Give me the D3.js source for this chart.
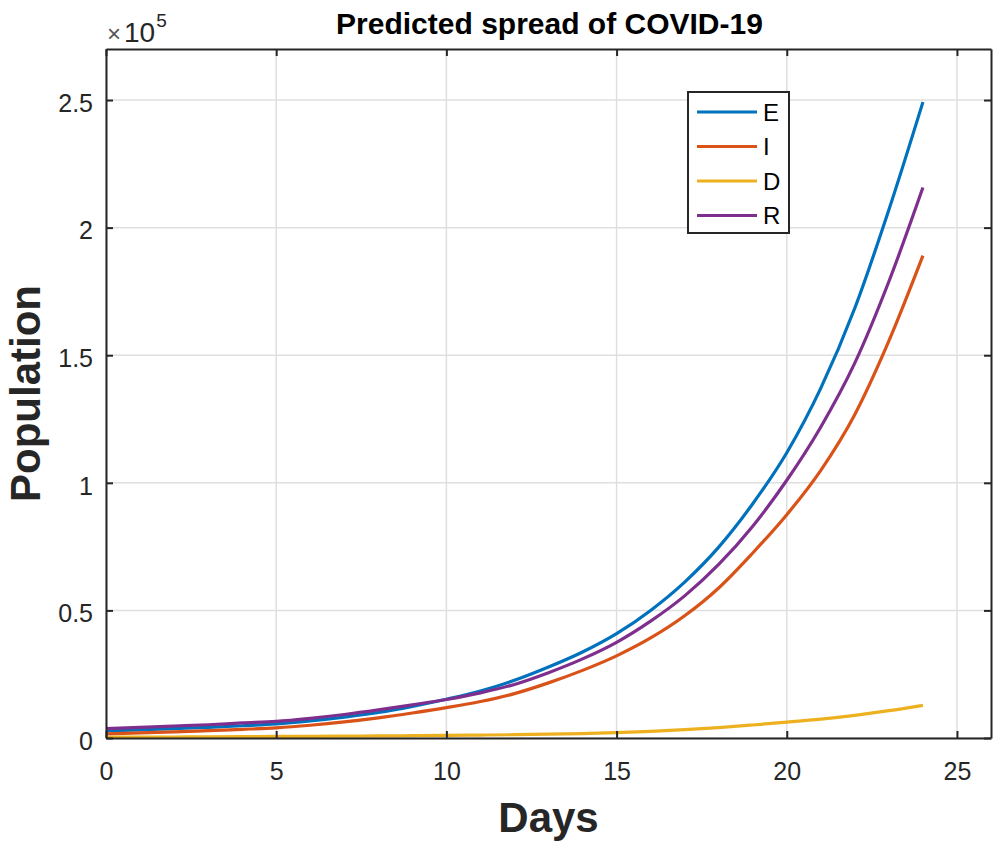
<!DOCTYPE html>
<html>
<head>
<meta charset="utf-8">
<script src="https://cdn.jsdelivr.net/npm/d3@7/dist/d3.min.js"></script>
<style>
  body { margin: 0; background: #fff; }
  svg { font-family: "Liberation Sans", Arial, sans-serif; }
</style>
</head>
<body>
<svg></svg>
<script>
let width = 1000;
let height = 843;

// data
let days = d3.range(0, 25);
let seriesNames = ['E', 'I', 'D', 'R'];
let exposed = [2800, 3200, 3700, 4200, 4800, 5500, 6700, 8200, 10000, 12400,
               15200, 18400, 22600, 27800, 33700, 40900, 50000, 61100, 74800, 91800,
               111800, 137100, 168500, 207000, 249200];
let infected = [1600, 2000, 2400, 2900, 3400, 4000, 5000, 6300, 7900, 9800,
                11900, 14300, 17400, 21600, 26500, 32200, 39200, 47900, 58800, 72500,
                87500, 104900, 126800, 155600, 189000];
let dead = [300, 350, 400, 450, 520, 600, 650, 720, 800, 900,
            1000, 1150, 1300, 1500, 1750, 2100, 2600, 3300, 4100, 5100,
            6200, 7400, 8900, 10700, 12800];
let recovered = [3700, 4200, 4700, 5200, 5900, 6500, 7700, 9200, 11000, 13000,
                 15100, 17700, 21000, 25600, 31000, 37500, 45800, 55700, 68000, 83000,
                 101000, 121900, 147000, 178900, 215700];
let xTicks = [0, 5, 10, 15, 20, 25];
let yTicks = [0, 0.5e5, 1e5, 1.5e5, 2e5, 2.5e5];
let colors = ['#0072BD', '#D95319', '#EDB120', '#7E2F8E'];

let series = [exposed, infected, dead, recovered];

let plotLeft = 106, plotRight = 991, plotTop = 49, plotBottom = 738;

let xScale = d3.scaleLinear()
                .domain([0, 26])
                .range([plotLeft, plotRight]);

let yScale = d3.scaleLinear()
                .domain([0, 2.7e5])
                .range([plotBottom, plotTop]);

let svg = d3.select('svg')
    .attr('width', width)
    .attr('height', height);

// grid
svg.append('g')
    .selectAll('line')
    .data(xTicks)
    .enter()
    .append('line')
        .attr('x1', d => xScale(d))
        .attr('x2', d => xScale(d))
        .attr('y1', plotTop)
        .attr('y2', plotBottom)
        .attr('stroke', '#dfdfdf')
        .attr('stroke-width', 1.5);

svg.append('g')
    .selectAll('line')
    .data(yTicks)
    .enter()
    .append('line')
        .attr('x1', plotLeft)
        .attr('x2', plotRight)
        .attr('y1', d => yScale(d))
        .attr('y2', d => yScale(d))
        .attr('stroke', '#dfdfdf')
        .attr('stroke-width', 1.5);

// lines
let line = d3.line()
    .x((d, i) => xScale(days[i]))
    .y(d => yScale(d))
    .curve(d3.curveMonotoneX);

svg.append('g')
    .selectAll('path')
    .data(series)
    .enter()
    .append('path')
        .attr('d', d => line(d))
        .attr('fill', 'none')
        .attr('stroke', (d, i) => colors[i])
        .attr('stroke-width', 3.2)
        .attr('stroke-linejoin', 'round');

// axes, ticks inward
let fmtY = d => d === 0 ? '0' : d3.format('')(d / 1e5);

let xAxis = d3.axisBottom(xScale)
                .tickValues(xTicks)
                .tickSize(-7)
                .tickSizeOuter(0)
                .tickPadding(24);

let xAxisTop = d3.axisTop(xScale)
                .tickValues(xTicks)
                .tickSize(-7)
                .tickSizeOuter(0)
                .tickFormat('');

let yAxis = d3.axisLeft(yScale)
                .tickValues(yTicks)
                .tickSize(-7)
                .tickSizeOuter(0)
                .tickPadding(13)
                .tickFormat(fmtY);

let yAxisRight = d3.axisRight(yScale)
                .tickValues(yTicks)
                .tickSize(-7)
                .tickSizeOuter(0)
                .tickFormat('');

function styleAxis(g) {
    g.selectAll('.domain').attr('stroke', '#262626').attr('stroke-width', 2);
    g.selectAll('.tick line').attr('stroke', '#262626').attr('stroke-width', 2);
    g.selectAll('.tick text')
        .attr('fill', '#262626')
        .style('font-size', '25px')
        .style('font-family', '"Liberation Sans", Arial, sans-serif');
}

svg.append('g')
    .attr('transform', `translate(0, ${plotBottom})`)
    .call(xAxis)
    .call(styleAxis);

svg.append('g')
    .attr('transform', `translate(0, ${plotTop})`)
    .call(xAxisTop)
    .call(styleAxis);

svg.append('g')
    .attr('transform', `translate(${plotLeft}, 0)`)
    .call(yAxis)
    .call(styleAxis)
    .selectAll('.tick text')
        .attr('dy', '0.45em');

svg.append('g')
    .attr('transform', `translate(${plotRight}, 0)`)
    .call(yAxisRight)
    .call(styleAxis);

// exponent label
let expo = svg.append('text')
    .attr('x', plotLeft + 1)
    .attr('y', 42)
    .attr('fill', '#262626')
    .style('font-size', '28px');
expo.append('tspan').text('×').style('font-size', '24px').attr('fill', '#555');
expo.append('tspan').text('10').attr('dx', 3);
expo.append('tspan').text('5').attr('dy', -15).attr('dx', 1).style('font-size', '19px');

// title and labels
svg.append('text')
    .attr('x', (plotLeft + plotRight) / 2 + 1)
    .attr('y', 34)
    .style('text-anchor', 'middle')
    .style('font-weight', 'bold')
    .style('font-size', '30px')
    .attr('fill', '#000')
    .text('Predicted spread of COVID-19');

svg.append('text')
    .attr('x', (plotLeft + plotRight) / 2)
    .attr('y', 832)
    .style('text-anchor', 'middle')
    .style('font-weight', 'bold')
    .style('font-size', '42px')
    .attr('fill', '#262626')
    .text('Days');

svg.append('text')
    .attr('transform', 'rotate(-90)')
    .attr('x', -(plotTop + plotBottom) / 2)
    .attr('y', 40)
    .style('text-anchor', 'middle')
    .style('font-weight', 'bold')
    .style('font-size', '42px')
    .attr('fill', '#262626')
    .text('Population');

// legend
let legend = svg.append('g')
    .attr('transform', 'translate(688, 92)');

legend.append('rect')
    .attr('width', 101)
    .attr('height', 141)
    .attr('fill', '#fff')
    .attr('stroke', '#262626')
    .attr('stroke-width', 2);

let items = legend.selectAll('g.item')
    .data(seriesNames)
    .enter()
    .append('g')
        .attr('class', 'item')
        .attr('transform', (d, i) => `translate(0, ${20 + i * 34.5})`);

items.append('line')
    .attr('x1', 9)
    .attr('x2', 69)
    .attr('stroke', (d, i) => colors[i])
    .attr('stroke-width', 3.2);

items.append('text')
    .attr('x', 75)
    .attr('dy', '0.36em')
    .style('font-size', '24px')
    .attr('fill', '#000')
    .text(d => d);
</script>
</body>
</html>
